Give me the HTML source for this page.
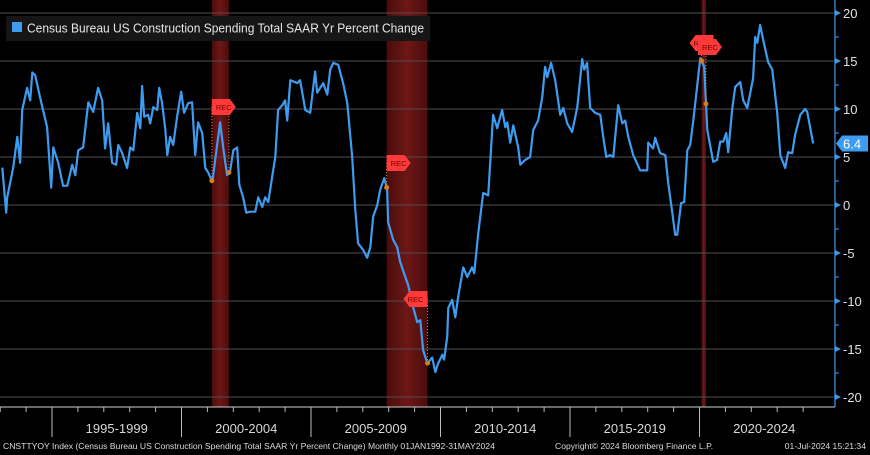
<!DOCTYPE html>
<html><head><meta charset="utf-8"><style>
html,body{margin:0;padding:0;background:#000;width:870px;height:455px;overflow:hidden}
svg{display:block;font-family:"Liberation Sans",sans-serif}
</style></head><body>
<svg id="chart" width="870" height="455" viewBox="0 0 870 455" xmlns="http://www.w3.org/2000/svg">
<defs>
<linearGradient id="recg" x1="0" x2="1" y1="0" y2="0">
<stop offset="0" stop-color="#4a0c0c"/><stop offset="0.5" stop-color="#6e1717"/><stop offset="1" stop-color="#4a0c0c"/>
</linearGradient>
</defs>
<rect x="0" y="0" width="870" height="455" fill="#000"/>
<g id="bands"></g>
<g id="grid"></g>
<g id="xaxis"></g>
<g id="yaxis"></g>
<path id="series" fill="none" stroke="#3d9cf0" stroke-width="2.2" stroke-linejoin="round"/>
<g id="markers"></g>
<g>
<rect x="6" y="16" width="424" height="25" fill="#161616"/>
<rect x="12" y="22" width="10" height="10" fill="#3d9cf0"/>
<text x="27" y="32.5" font-size="12.5" fill="#e6e6e6" textLength="397" lengthAdjust="spacingAndGlyphs">Census Bureau US Construction Spending Total SAAR Yr Percent Change</text>
</g>
<g id="lasttag"></g>
<text x="3" y="449" font-size="8.6" fill="#dcdcdc">CNSTTYOY Index (Census Bureau US Construction Spending Total SAAR Yr Percent Change)  Monthly 01JAN1992-31MAY2024</text>
<text x="555" y="449" font-size="8.6" fill="#dcdcdc">Copyright© 2024 Bloomberg Finance L.P.</text>
<text x="866" y="449" font-size="8.6" fill="#dcdcdc" text-anchor="end">01-Jul-2024 15:21:34</text>
</svg>
<script>
const dates=[1993.08,1993.23,1993.27,1993.50,1993.66,1993.77,1993.85,1994.04,1994.16,1994.24,1994.35,1994.54,1994.81,1994.97,1995.05,1995.24,1995.43,1995.59,1995.78,1995.90,1996.01,1996.20,1996.40,1996.59,1996.78,1996.94,1997.05,1997.17,1997.32,1997.48,1997.56,1997.71,1997.90,1998.02,1998.14,1998.29,1998.41,1998.48,1998.56,1998.71,1998.79,1998.91,1999.06,1999.14,1999.25,1999.37,1999.45,1999.56,1999.68,1999.83,1999.99,2000.10,2000.26,2000.41,2000.53,2000.64,2000.80,2000.92,2001.03,2001.19,2001.30,2001.49,2001.61,2001.76,2001.88,2002.00,2002.15,2002.23,2002.38,2002.50,2002.65,2002.85,2002.96,2003.12,2003.23,2003.35,2003.50,2003.62,2003.73,2003.89,2004.00,2004.08,2004.20,2004.47,2004.58,2004.78,2004.97,2005.16,2005.24,2005.47,2005.63,2005.74,2005.86,2006.05,2006.24,2006.40,2006.59,2006.71,2006.82,2007.02,2007.17,2007.29,2007.40,2007.56,2007.67,2007.83,2007.94,2007.98,2008.17,2008.33,2008.44,2008.64,2008.75,2008.95,2009.10,2009.22,2009.33,2009.49,2009.68,2009.80,2009.91,2010.07,2010.14,2010.26,2010.30,2010.45,2010.57,2010.68,2010.88,2011.03,2011.22,2011.30,2011.46,2011.65,2011.84,2012.03,2012.19,2012.38,2012.50,2012.58,2012.69,2012.81,2013.00,2013.08,2013.15,2013.27,2013.46,2013.58,2013.77,2013.93,2014.04,2014.12,2014.27,2014.43,2014.62,2014.74,2014.89,2015.08,2015.28,2015.47,2015.55,2015.66,2015.78,2015.97,2016.17,2016.28,2016.40,2016.55,2016.67,2016.86,2017.02,2017.13,2017.25,2017.44,2017.71,2017.98,2018.02,2018.21,2018.29,2018.48,2018.68,2018.79,2018.95,2019.06,2019.14,2019.29,2019.41,2019.53,2019.64,2019.76,2020.03,2020.18,2020.30,2020.53,2020.68,2020.80,2020.92,2021.03,2021.11,2021.26,2021.38,2021.57,2021.69,2021.84,2021.96,2022.07,2022.15,2022.23,2022.34,2022.46,2022.65,2022.81,2023.00,2023.12,2023.31,2023.42,2023.58,2023.69,2023.89,2024.08,2024.16,2024.27,2024.39];
const values=[3.9,-0.8,0.8,3.9,7.1,4.4,9.9,12.2,10.9,13.8,13.5,11.2,8.1,1.8,6.0,4.4,2.0,2.0,4.2,3.1,5.7,6.0,10.7,9.7,12.2,10.9,5.9,8.5,4.4,4.2,6.25,5.4,3.85,6.0,5.7,9.6,8.0,12.4,9.2,9.4,8.5,10.2,9.9,12.2,10.6,8.0,5.2,7.1,6.25,9.2,11.8,9.6,10.6,10.7,5.2,8.6,7.5,3.85,3.4,2.4,4.7,8.6,6.0,3.1,3.6,5.7,6.0,2.1,0.8,-0.8,-0.7,-0.7,0.8,-0.2,0.8,0.3,2.9,5.0,9.9,10.4,10.9,8.8,13.0,12.7,13.0,9.9,9.6,13.9,11.7,12.7,11.5,14.1,14.8,14.6,12.7,10.6,5.0,-0.5,-4.0,-4.7,-5.5,-4.4,-1.2,0.0,1.6,2.8,1.6,-1.8,-3.6,-4.4,-5.9,-7.5,-8.3,-10.7,-12.2,-12.0,-15.1,-16.5,-15.9,-17.4,-16.5,-15.6,-16.1,-13.75,-10.7,-9.9,-11.7,-9.6,-6.5,-7.5,-6.5,-7.1,-2.9,1.25,1.0,9.4,8.0,9.9,8.1,8.6,6.5,8.3,6.0,4.2,4.4,4.7,5.0,7.8,8.8,11.25,14.4,13.3,14.8,13.0,9.4,10.1,8.5,7.6,10.2,15.2,14.1,14.8,10.1,9.6,9.4,7.1,5.0,5.2,5.0,10.4,8.5,8.8,7.1,5.2,3.6,3.6,6.5,5.9,7.0,5.4,5.2,2.3,-0.8,-3.1,-3.1,0.2,0.3,5.7,6.25,8.8,15.3,14.4,7.8,4.5,4.7,6.6,6.6,7.5,5.5,9.9,12.3,12.8,10.9,10.1,11.7,13.2,17.5,16.9,18.75,17.2,14.9,14.1,9.6,5.2,3.85,5.5,5.4,7.3,9.4,10.0,9.7,8.1,6.4];
const yTicks=[20,15,10,5,0,-5,-10,-15,-20];
const xPeriodLabels=["1995-1999","2000-2004","2005-2009","2010-2014","2015-2019","2020-2024"];
const xPeriodStarts=[1995,2000,2005,2010,2015,2020];
const recStarts=[2001.17,2007.92,2020.08];
const recEnds=[2001.83,2009.5,2020.25];
const lastValue=6.4;

const NS="http://www.w3.org/2000/svg";
const X=t=>52+(t-1995)*25.9;
const Y=v=>205-v*9.6;
function mk(tag,attrs,parent){const e=document.createElementNS(NS,tag);for(const k in attrs)e.setAttribute(k,attrs[k]);parent.appendChild(e);return e;}
const bands=document.getElementById('bands'),grid=document.getElementById('grid'),xa=document.getElementById('xaxis'),ya=document.getElementById('yaxis'),mg=document.getElementById('markers');

recStarts.forEach((s,i)=>{
  const r=mk('rect',{x:X(s),y:0,width:X(recEnds[i])-X(s),height:407,fill:'url(#recg)'},bands);
  
  
});
yTicks.forEach(v=>{
  const l=mk('line',{x1:0,x2:835,y1:Y(v),y2:Y(v),stroke:'#4e4e4e','stroke-width':1},grid);
  
  
});
const ax=mk('line',{x1:835,x2:835,y1:0,y2:407,stroke:'#3d9cf0','stroke-width':1.2},ya);


for(let v=-20;v<=20;v+=2.5){mk('line',{x1:835,x2:839,y1:Y(v),y2:Y(v),stroke:'#3d9cf0','stroke-width':1},ya);}
yTicks.forEach(v=>{
  mk('path',{d:`M835 ${Y(v)-3}L841 ${Y(v)}L835 ${Y(v)+3}Z`,fill:'#3d9cf0'},ya);
  const t=mk('text',{x:843,y:Y(v)+5,'font-size':13,fill:'#e0e0e0'},ya);
  t.textContent=v<0?'-'+Math.abs(v):String(v);
  
  
});
const xl=mk('line',{x1:0,x2:835,y1:407,y2:407,stroke:'#d0d0d0','stroke-width':1},xa);


for(let yr=1993;yr<=2024;yr++){
  const major=xPeriodStarts.includes(yr)||yr===2025;
  mk('line',{x1:X(yr),x2:X(yr),y1:407,y2:major?437:412,stroke:'#bbbbbb','stroke-width':1},xa);
}
xPeriodLabels.forEach((lab,i)=>{
  const t=mk('text',{x:X(xPeriodStarts[i]+2.5),y:433,'font-size':13,fill:'#d8d8d8','text-anchor':'middle'},xa);
  t.textContent=lab;
  
  
});
document.getElementById('series').setAttribute('d',dates.map((d,i)=>(i?'L':'M')+X(d).toFixed(1)+' '+Y(values[i]).toFixed(1)).join(''));
function valAt(t){for(let i=1;i<dates.length;i++){if(dates[i]>=t){const f=(t-dates[i-1])/(dates[i]-dates[i-1]);return values[i-1]+f*(values[i]-values[i-1]);}}return values[values.length-1];}
function flag(x,y,left){
  const g=mk('g',{},mg);
  
  
  const d=left?`M${x} ${y}L${x+6} ${y-8}L${x+24} ${y-8}L${x+24} ${y+8}L${x+6} ${y+8}Z`:`M${x} ${y-8}L${x+18} ${y-8}L${x+24} ${y}L${x+18} ${y+8}L${x} ${y+8}Z`;
  mk('path',{d:d,fill:'#ff3a3a'},g);
  const t=mk('text',{x:x+12,y:y+3,'font-size':7.5,fill:'#700','text-anchor':'middle'},g);t.textContent='REC';
}
recStarts.forEach((s,i)=>{
  const e=recEnds[i];
  const ys=Y(valAt(s)),ye=Y(valAt(e));
  const fyS=i===1?163:(i===0?107:43), fyE=i===1?299:(i===0?107:47);
  mk('line',{x1:X(s),x2:X(s),y1:fyS,y2:ys,stroke:'#d08020','stroke-width':1,'stroke-dasharray':'1,2'},mg);
  mk('line',{x1:X(e),x2:X(e),y1:fyE,y2:ye,stroke:'#d08020','stroke-width':1,'stroke-dasharray':'1,2'},mg);
  const c1=mk('circle',{cx:X(s),cy:ys,r:2.5,fill:'#d08020'},mg);
  
  
  const c2=mk('circle',{cx:X(e),cy:ye,r:2.5,fill:'#d08020'},mg);
  
  
  if(i===0){flag(X(s),fyS,false);}
  else if(i===1){flag(X(s),fyS,false);flag(X(e)-24,fyE,true);}
  else{flag(X(s)-12,fyS,true);flag(X(e)-8,fyE,false);}
});
const lt=document.getElementById('lasttag');
const ly=Y(lastValue);
mk('path',{d:`M836 ${ly}L842 ${ly-8}L868 ${ly-8}L868 ${ly+8}L842 ${ly+8}Z`,fill:'#3d9cf0'},lt);
const ltt=mk('text',{x:843,y:ly+5,'font-size':13,fill:'#ffffff'},lt);ltt.textContent=lastValue.toFixed(1);
</script>
</body></html>
